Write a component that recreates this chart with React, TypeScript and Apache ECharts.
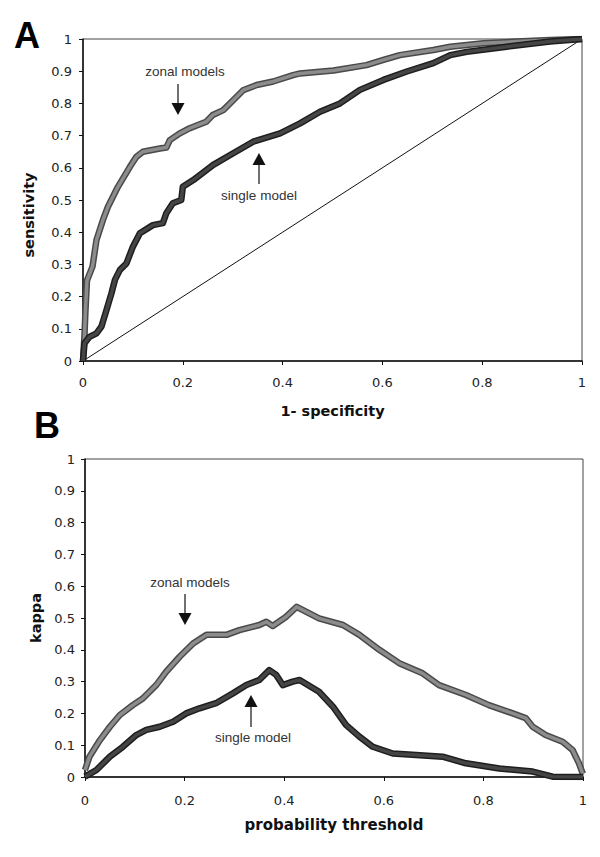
import React, { useEffect, useRef } from "react";
import * as echarts from "echarts";

// Panel A: ROC curves [1 - specificity, sensitivity]
const zonalRoc: number[][] = [
  [0, 0], [0.003, 0.08], [0.005, 0.158], [0.008, 0.25], [0.019, 0.293], [0.027, 0.376],
  [0.04, 0.438], [0.05, 0.479], [0.06, 0.51], [0.07, 0.541], [0.094, 0.603], [0.107, 0.634],
  [0.12, 0.65], [0.154, 0.66], [0.167, 0.663], [0.174, 0.686], [0.194, 0.707], [0.214, 0.723],
  [0.247, 0.743], [0.26, 0.764], [0.281, 0.779], [0.301, 0.81], [0.321, 0.841], [0.348, 0.857],
  [0.381, 0.868], [0.421, 0.888], [0.435, 0.893], [0.502, 0.902], [0.568, 0.919], [0.602, 0.935],
  [0.635, 0.95], [0.702, 0.966], [0.736, 0.976], [0.802, 0.987], [0.869, 0.992], [0.936, 0.997], [1, 1],
];
const singleRoc: number[][] = [
  [0, 0], [0.003, 0.055], [0.013, 0.075], [0.027, 0.086], [0.037, 0.107], [0.047, 0.158],
  [0.057, 0.21], [0.064, 0.252], [0.074, 0.283], [0.087, 0.303], [0.1, 0.355], [0.114, 0.397],
  [0.14, 0.422], [0.16, 0.428], [0.167, 0.459], [0.18, 0.49], [0.197, 0.5], [0.2, 0.541],
  [0.221, 0.562], [0.261, 0.609], [0.301, 0.645], [0.341, 0.681], [0.395, 0.707], [0.435, 0.738],
  [0.475, 0.774], [0.515, 0.8], [0.555, 0.842], [0.602, 0.873], [0.649, 0.899], [0.702, 0.925],
  [0.736, 0.95], [0.769, 0.96], [0.849, 0.976], [0.936, 0.992], [1, 1],
];
const diagonal: number[][] = [[0, 0], [1, 1]];

// Panel B: kappa vs probability threshold
const zonalKappa: number[][] = [
  [0, 0.022], [0.009, 0.064], [0.03, 0.116], [0.05, 0.158], [0.07, 0.195], [0.096, 0.226],
  [0.116, 0.247], [0.143, 0.289], [0.163, 0.331], [0.19, 0.378], [0.217, 0.42], [0.244, 0.447],
  [0.284, 0.447], [0.31, 0.462], [0.35, 0.478], [0.364, 0.488], [0.377, 0.475], [0.404, 0.504],
  [0.425, 0.535], [0.47, 0.499], [0.518, 0.478], [0.551, 0.447], [0.591, 0.4], [0.631, 0.358],
  [0.678, 0.326], [0.711, 0.289], [0.765, 0.258], [0.811, 0.226], [0.859, 0.2], [0.885, 0.185],
  [0.899, 0.158], [0.925, 0.132], [0.959, 0.111], [0.979, 0.085], [0.992, 0.043], [0.998, 0.017], [1, 0.01],
];
const singleKappa: number[][] = [
  [0, 0.001], [0.023, 0.022], [0.05, 0.064], [0.076, 0.095], [0.103, 0.132], [0.123, 0.148],
  [0.15, 0.158], [0.177, 0.174], [0.203, 0.2], [0.23, 0.216], [0.263, 0.232], [0.297, 0.263],
  [0.324, 0.289], [0.35, 0.305], [0.37, 0.336], [0.384, 0.321], [0.397, 0.289], [0.417, 0.3],
  [0.431, 0.305], [0.47, 0.268], [0.498, 0.221], [0.524, 0.164], [0.551, 0.127], [0.578, 0.095],
  [0.618, 0.074], [0.665, 0.069], [0.718, 0.064], [0.765, 0.043], [0.832, 0.027], [0.899, 0.017],
  [0.939, 0.001], [1, 0],
];

const FONT = "'Liberation Sans', Arial, sans-serif";
const TICK_FONT = "'DejaVu Sans', sans-serif";
const TITLE_FONT = "'DejaVu Sans', sans-serif";

function axisX(gridIndex: number, name: string, labelMargin: number, nameGap: number, nameSize: number) {
  return {
    type: "value", gridIndex, min: 0, max: 1, interval: 0.2,
    name, nameLocation: "middle", nameGap,
    nameTextStyle: { fontFamily: TITLE_FONT, fontWeight: "bold", fontSize: nameSize, color: "#111" },
    axisLine: { show: true, onZero: false, lineStyle: { color: "#111", width: 1.5 } },
    axisTick: { show: true, inside: false, length: 4, lineStyle: { color: "#111" } },
    axisLabel: { fontFamily: TICK_FONT, fontSize: 13, color: "#222", margin: labelMargin },
    splitLine: { show: false },
  };
}
function axisY(gridIndex: number, name: string, labelMargin: number, nameGap: number, shiftPad: number) {
  return {
    type: "value", gridIndex, min: 0, max: 1, interval: 0.1,
    name, nameLocation: "middle", nameGap,
    nameTextStyle: {
      fontFamily: TITLE_FONT, fontWeight: "bold", fontSize: 14.5, color: "#111",
      padding: [0, shiftPad, 0, 0],
    },
    axisLine: { show: true, onZero: false, lineStyle: { color: "#111", width: 1.5 } },
    axisTick: { show: true, inside: false, length: 4, lineStyle: { color: "#111" } },
    axisLabel: { fontFamily: TICK_FONT, fontSize: 13, color: "#222", margin: labelMargin },
    splitLine: { show: false },
  };
}
function curve(name: string, data: number[][], idx: number, outer: string, inner: string) {
  return [
    {
      name: name + " outline", type: "line", xAxisIndex: idx, yAxisIndex: idx, data,
      showSymbol: false, symbol: "none", silent: true,
      lineStyle: { color: outer, width: 6.5, join: "round" },
    },
    {
      name, type: "line", xAxisIndex: idx, yAxisIndex: idx, data,
      showSymbol: false, symbol: "none", silent: true,
      lineStyle: { color: inner, width: 3.5, join: "round" },
    },
  ];
}
function arrow(x: number, y1: number, y2: number, down: boolean) {
  const headH = 12, headW = 6.5;
  if (down) {
    return [
      { type: "line", shape: { x1: x, y1, x2: x, y2: y2 - headH }, style: { stroke: "#111", lineWidth: 1.2 } },
      { type: "polygon", shape: { points: [[x - headW, y2 - headH], [x + headW, y2 - headH], [x, y2]] }, style: { fill: "#111" } },
    ];
  }
  return [
    { type: "line", shape: { x1: x, y1: y1 + headH, x2: x, y2 }, style: { stroke: "#111", lineWidth: 1.2 } },
    { type: "polygon", shape: { points: [[x - headW, y1 + headH], [x + headW, y1 + headH], [x, y1]] }, style: { fill: "#111" } },
  ];
}
function label(text: string, x: number, y: number) {
  return {
    type: "text", x, y,
    style: { text, fontFamily: FONT, fontSize: 13.5, fill: "#333", align: "center", verticalAlign: "middle" },
  };
}

export default function App() {
  const ref = useRef<HTMLDivElement>(null);
  useEffect(() => {
    if (!ref.current) return;
    const chart = echarts.init(ref.current, undefined, { renderer: "svg" });
    chart.setOption({
      animation: false,
      backgroundColor: "#ffffff",
      grid: [
        { left: 83, top: 39, width: 499, height: 322, show: true, borderColor: "#444", borderWidth: 1, backgroundColor: "transparent" },
        { left: 85, top: 459, width: 498, height: 318, show: true, borderColor: "#444", borderWidth: 1, backgroundColor: "transparent" },
      ],
      xAxis: [axisX(0, "1- specificity", 15, 42, 14.5), axisX(1, "probability threshold", 17, 40, 15)],
      yAxis: [axisY(0, "sensitivity", 11, 47, 30), axisY(1, "kappa", 10, 41, 0)],
      series: [
        {
          name: "chance", type: "line", xAxisIndex: 0, yAxisIndex: 0, data: diagonal,
          showSymbol: false, symbol: "none", silent: true, lineStyle: { color: "#111", width: 1 },
        },
        ...curve("zonal models", zonalRoc, 0, "#4a4a4a", "#8c8c8c"),
        ...curve("single model", singleRoc, 0, "#1e1e1e", "#454545"),
        ...curve("zonal models", zonalKappa, 1, "#4a4a4a", "#8c8c8c"),
        ...curve("single model", singleKappa, 1, "#1e1e1e", "#454545"),
      ],
      graphic: [
        { type: "text", x: 14, y: 17, style: { text: "A", fontFamily: FONT, fontWeight: 900, fontSize: 36, fill: "#000" } },
        { type: "text", x: 34, y: 407, style: { text: "B", fontFamily: FONT, fontWeight: 900, fontSize: 36, fill: "#000" } },
        label("zonal models", 185, 71),
        ...arrow(178, 84, 115, true),
        label("single model", 259, 195),
        ...arrow(259, 153, 184, false),
        label("zonal models", 190, 582),
        ...arrow(185, 594, 625, true),
        label("single model", 253, 737),
        ...arrow(251, 695, 727, false),
      ],
    });
    return () => chart.dispose();
  }, []);
  return <div ref={ref} style={{ position: "absolute", left: 0, top: 0, width: 600, height: 857 }} />;
}
